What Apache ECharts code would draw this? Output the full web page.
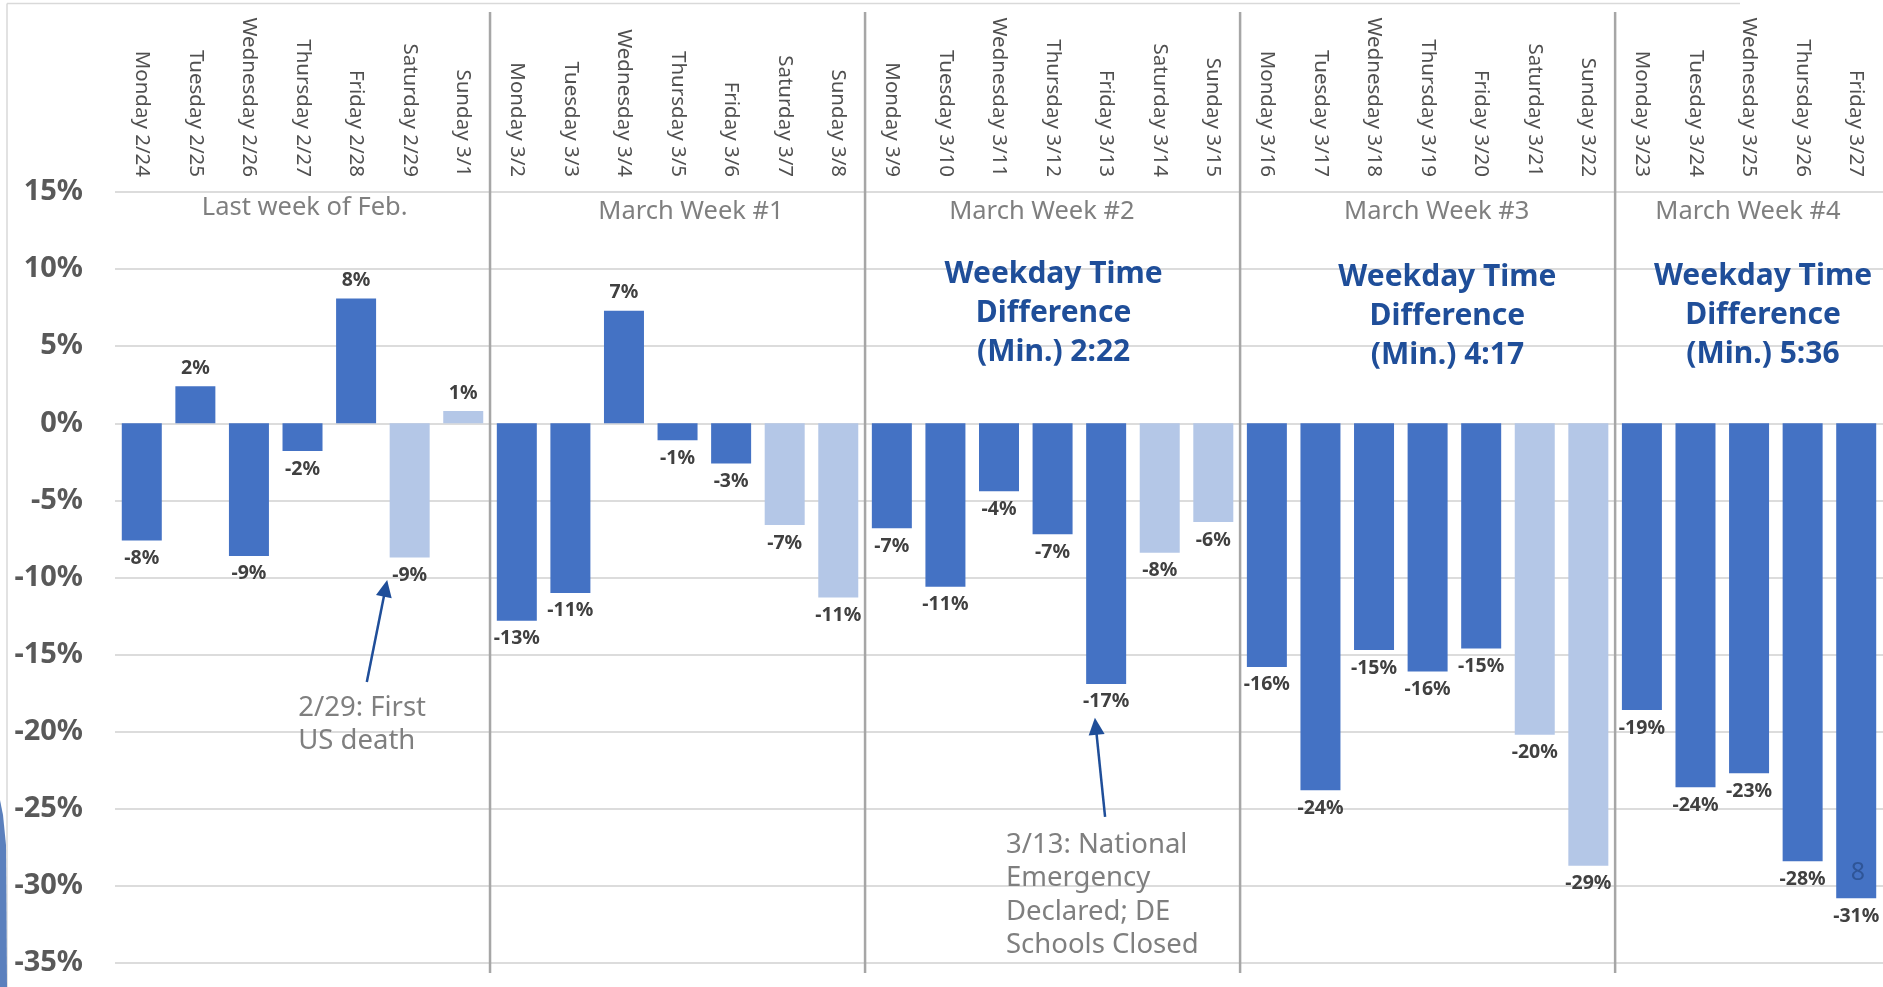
<!DOCTYPE html>
<html lang="en">
<head>
<meta charset="UTF-8">
<title>Weekday time difference</title>
<script src="https://cdn.jsdelivr.net/npm/echarts@6.0.0/dist/echarts.min.js"></script>
<style>
    * { margin: 0; padding: 0; }
    html, body { width: 1883px; height: 987px; background: #fff; overflow: hidden; }
    #main { width: 1883px; height: 987px; }
</style>
</head>
<body>
<div id="main"></div>
<script>
    // ---- data ----
    const categories = [
        'Monday 2/24', 'Tuesday 2/25', 'Wednesday 2/26', 'Thursday 2/27', 'Friday 2/28', 'Saturday 2/29', 'Sunday 3/1',
        'Monday 3/2', 'Tuesday 3/3', 'Wednesday 3/4', 'Thursday 3/5', 'Friday 3/6', 'Saturday 3/7', 'Sunday 3/8',
        'Monday 3/9', 'Tuesday 3/10', 'Wednesday 3/11', 'Thursday 3/12', 'Friday 3/13', 'Saturday 3/14', 'Sunday 3/15',
        'Monday 3/16', 'Tuesday 3/17', 'Wednesday 3/18', 'Thursday 3/19', 'Friday 3/20', 'Saturday 3/21', 'Sunday 3/22',
        'Monday 3/23', 'Tuesday 3/24', 'Wednesday 3/25', 'Thursday 3/26', 'Friday 3/27'
    ];
    const changePct = [
        -7.6, 2.4, -8.6, -1.8, 8.1, -8.7, 0.8,
        -12.8, -11.0, 7.3, -1.1, -2.6, -6.6, -11.3,
        -6.8, -10.6, -4.4, -7.2, -16.9, -8.4, -6.4,
        -15.8, -23.8, -14.7, -16.1, -14.6, -20.2, -28.7,
        -18.6, -23.6, -22.7, -28.4, -30.8
    ];
    const weekNames = ['Last week of Feb.', 'March Week #1', 'March Week #2', 'March Week #3', 'March Week #4'];
    const weekBreaks = [7, 14, 21, 28];          // category index where a new week starts
    const weekdayDiff = ['2:22', '4:17', '5:36']; // weeks #2, #3, #4
    const events = [
        { day: 'Saturday 2/29', text: '2/29: First\nUS death' },
        { day: 'Friday 3/13', text: '3/13: National\nEmergency\nDeclared; DE\nSchools Closed' }
    ];
    const yMin = -35, yMax = 15, yStep = 5;

    // ---- layout of the annotations (x in category units, y in %) ----
    const weekLabelPos = [[3.54, 13.98], [10.75, 13.72], [17.3, 13.72], [24.67, 13.72], [30.48, 13.72]];
    const diffPos = [[17.52, 7.1], [24.87, 6.9], [30.76, 6.97]];
    const eventText = [[3.42, -19.54], [16.63, -30.6]];
    const eventArrow = [
        { from: [4.70, -16.78], to: [5.08, -10.16] },
        { from: [18.48, -25.53], to: [18.29, -19.1] }
    ];

    const weekdayColor = '#4472c4';
    const weekendColor = '#b4c7e7';
    const font = '"Noto Sans", "DejaVu Sans", sans-serif';

    let chart = echarts.init(document.getElementById('main'));

    function isWeekend(name) {
        return name.indexOf('Saturday') === 0 || name.indexOf('Sunday') === 0;
    }

    chart.setOption({
        animation: false,
        grid: { left: 115, right: 0, top: 192, bottom: 24, containLabel: false, outerBoundsMode: 'none' },
        xAxis: [{
            type: 'category',
            position: 'top',
            data: categories,
            axisLine: { show: false },
            axisTick: { show: false },
            axisLabel: { interval: 0, rotate: -90, margin: 15, color: '#505050', fontSize: 20.5, fontFamily: font }
        }, {
            // helper axis for placing annotations between categories
            type: 'value', show: false, min: 0, max: categories.length
        }],
        yAxis: {
            type: 'value',
            min: yMin,
            max: yMax,
            interval: yStep,
            axisLine: { show: false },
            axisTick: { show: false },
            splitLine: { lineStyle: { color: '#dcdcdc', width: 2 } },
            axisLabel: {
                formatter: '{value}%', margin: 32, color: '#595959',
                fontSize: 29, fontWeight: 'bold', fontFamily: font
            }
        },
        series: [{
            type: 'bar',
            barWidth: 40,
            data: changePct.map((v, i) => ({
                value: v,
                itemStyle: { color: isWeekend(categories[i]) ? weekendColor : weekdayColor },
                label: { position: v >= 0 ? 'top' : 'bottom' }
            })),
            label: {
                show: true,
                distance: 8,
                formatter: p => Math.round(p.value) + '%',
                color: '#404040',
                fontSize: 19.5,
                fontWeight: 'bold',
                fontFamily: font
            }
        }]
    });

    function px(x, y) {
        return chart.convertToPixel({ xAxisIndex: 1, yAxisIndex: 0 }, [x, y]);
    }

    let g = [];

    // frame pieces from the slide
    g.push({ type: 'line', shape: { x1: 7, y1: 3.5, x2: 1740, y2: 3.5 }, style: { stroke: '#d9d9d9', lineWidth: 1.5 } });
    g.push({ type: 'line', shape: { x1: 7, y1: 3.5, x2: 7, y2: 987 }, style: { stroke: '#d9d9d9', lineWidth: 1.5 } });
    g.push({ type: 'polygon', shape: { points: [[0, 800], [3, 815], [6, 845], [7, 987], [0, 987]] }, style: { fill: '#5b80bd' } });

    // week dividers
    weekBreaks.forEach(b => {
        let x = px(b, 0)[0];
        g.push({ type: 'line', z: 5, shape: { x1: x, y1: 12, x2: x, y2: 973 }, style: { stroke: '#a6a6a6', lineWidth: 2.5 } });
    });

    // week names
    weekNames.forEach((name, i) => {
        let p = px(weekLabelPos[i][0], weekLabelPos[i][1]);
        g.push({
            type: 'text', z: 10, x: p[0], y: p[1],
            style: { text: name, fill: '#7f7f7f', font: '25.5px ' + font, align: 'center', verticalAlign: 'middle' }
        });
    });

    // weekday time difference notes
    weekdayDiff.forEach((d, i) => {
        let p = px(diffPos[i][0], diffPos[i][1]);
        g.push({
            type: 'text', z: 10, x: p[0], y: p[1],
            style: {
                text: 'Weekday Time\nDifference\n(Min.) ' + d, fill: '#1f4e99',
                font: 'bold 30px ' + font, lineHeight: 39, align: 'center', verticalAlign: 'middle'
            }
        });
    });

    // event notes with arrows
    events.forEach((ev, i) => {
        let p = px(eventText[i][0], eventText[i][1]);
        g.push({
            type: 'text', z: 10, x: p[0], y: p[1],
            style: { text: ev.text, fill: '#7f7f7f', font: '27.5px ' + font, lineHeight: 33.5, align: 'left', verticalAlign: 'middle' }
        });
        let a = px(eventArrow[i].from[0], eventArrow[i].from[1]);
        let b = px(eventArrow[i].to[0], eventArrow[i].to[1]);
        let dx = b[0] - a[0], dy = b[1] - a[1];
        let len = Math.sqrt(dx * dx + dy * dy);
        let ux = dx / len, uy = dy / len;
        let L = 17, W = 8;
        let bx = b[0] - ux * L, by = b[1] - uy * L;
        g.push({ type: 'line', z: 10, shape: { x1: a[0], y1: a[1], x2: bx + ux * 3, y2: by + uy * 3 }, style: { stroke: '#1f4e99', lineWidth: 2.5 } });
        g.push({
            type: 'polygon', z: 10,
            shape: { points: [b, [bx - uy * W, by + ux * W], [bx + uy * W, by - ux * W]] },
            style: { fill: '#1f4e99' }
        });
    });

    // slide page number
    g.push({
        type: 'text', z: 20, x: 1858, y: 873,
        style: { text: '8', fill: '#2f5597', font: '25px ' + font, align: 'center', verticalAlign: 'middle' }
    });

    chart.setOption({ graphic: g });
</script>
</body>
</html>
